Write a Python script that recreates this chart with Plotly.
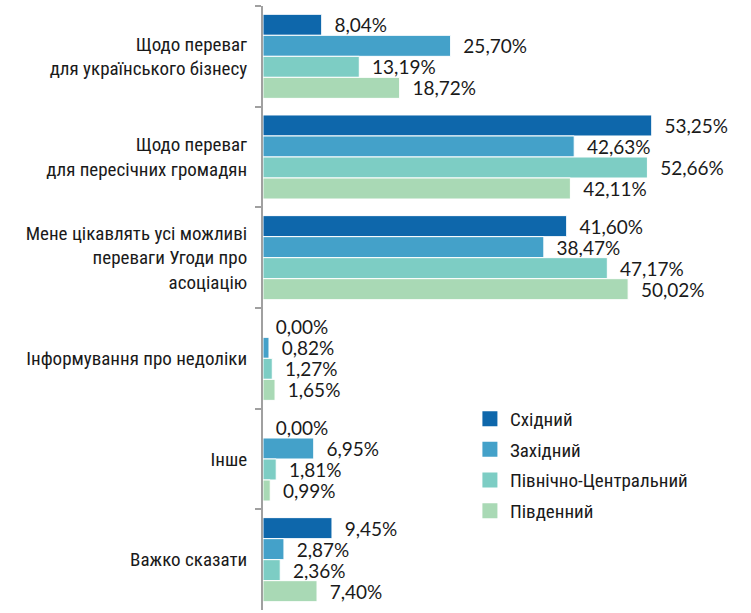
import plotly.graph_objects as go

categories = [
    "Щодо переваг<br>для українського бізнесу",
    "Щодо переваг<br>для пересічних громадян",
    "Мене цікавлять усі можливі<br>переваги Угоди про<br>асоціацію",
    "Інформування про недоліки",
    "Інше",
    "Важко сказати",
]
series_names = ["Східний", "Західний", "Північно-Центральний", "Південний"]
east = [8.04, 53.25, 41.60, 0.00, 0.00, 9.45]
west = [25.70, 42.63, 38.47, 0.82, 6.95, 2.87]
north_central = [13.19, 52.66, 47.17, 1.27, 1.81, 2.36]
south = [18.72, 42.11, 50.02, 1.65, 0.99, 7.40]
series_values = [east, west, north_central, south]
colors = ["#0E67AB", "#44A1C9", "#7DCDC4", "#A9D9B5"]

label_font = "Liberation Sans Narrow, Roboto Condensed, DejaVu Sans Condensed, Roboto, sans-serif"

fig = go.Figure()
for name, vals, col in zip(series_names, series_values, colors):
    fig.add_trace(go.Bar(
        y=categories, x=vals, name=name, orientation="h",
        marker=dict(color=col, line=dict(color="white", width=1)),
        texttemplate="\u00a0\u00a0%{x:.2f}%", textposition="outside",
        textfont=dict(family="Lato, Roboto, sans-serif", size=19, color="#1a1a1a"),
        constraintext="none", cliponaxis=False,
        showlegend=False, legendgroup=name,
    ))
# legend entries with larger square swatches
for name, col in zip(series_names, colors):
    fig.add_trace(go.Scatter(
        x=[None], y=[None], mode="markers", name=name, legendgroup=name,
        marker=dict(symbol="square", size=15, color=col),
        showlegend=True,
    ))

fig.update_layout(
    width=751, height=613,
    margin=dict(l=263, r=0, t=6, b=3),
    paper_bgcolor="white", plot_bgcolor="rgba(0,0,0,0)",
    barmode="group", bargap=0.165, bargroupgap=0,
    separators=", ",
    showlegend=True,
    legend=dict(
        x=0.424, y=0.348, xanchor="left", yanchor="top",
        traceorder="grouped", tracegroupgap=3,
        font=dict(family=label_font, size=19, color="#1a1a1a"),
        bgcolor="rgba(0,0,0,0)",
    ),
    xaxis=dict(range=[0, 66.85], visible=False, showgrid=False, zeroline=False),
    yaxis=dict(
        autorange="reversed", showgrid=False, zeroline=False,
        showline=True, linecolor="#A0A0A0", linewidth=2,
        ticks="outside", tickson="boundaries", ticklen=6, tickcolor="#A0A0A0", tickwidth=2,
        ticklabelstandoff=10,
        tickfont=dict(family=label_font, size=19, color="#1a1a1a"),
    ),
)

fig.write_html("out.html", config={"displayModeBar": False},
               post_script="document.body.style.margin='0';")
